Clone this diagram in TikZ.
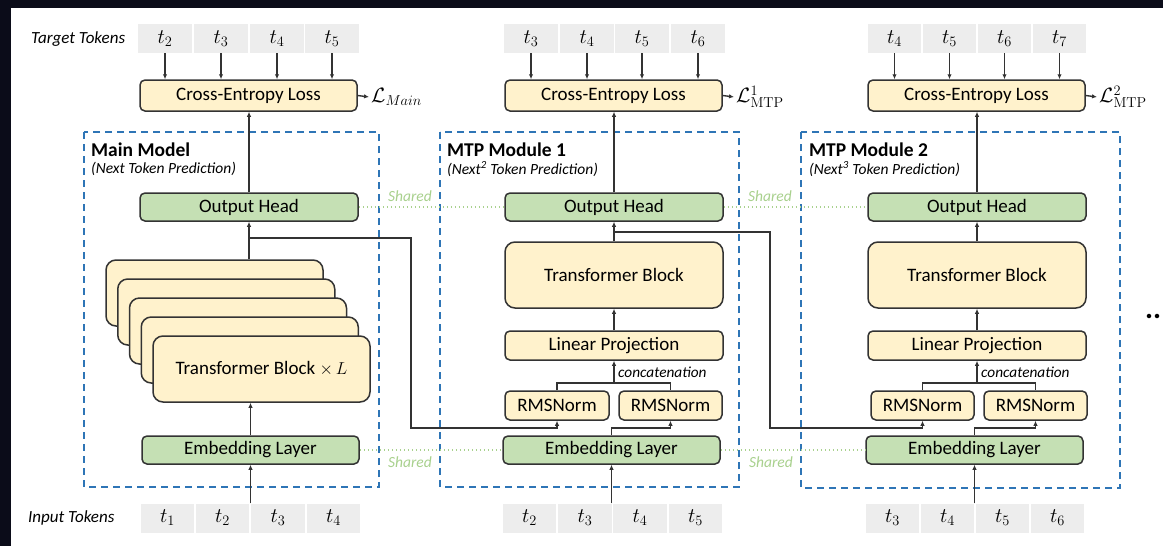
\documentclass[tikz,border=0pt]{standalone}
\usepackage[no-math]{fontspec}
\setmainfont{Carlito}
\usetikzlibrary{arrows.meta}
\definecolor{yel}{HTML}{FFF2CC}
\definecolor{grn}{HTML}{C5E0B4}
\definecolor{bord}{HTML}{333333}
\definecolor{dblue}{HTML}{2E75B6}
\definecolor{tokgray}{HTML}{EDEDED}
\definecolor{shgreen}{HTML}{A9D18E}
\definecolor{bgdark}{HTML}{0B0C19}
\tikzset{
  box/.style={draw=bord, line width=1.5pt, rounded corners=5pt, inner sep=0pt,
    font=\fontsize{19}{22}\selectfont},
  ybox/.style={box, fill=yel},
  gbox/.style={box, fill=grn},
  bigbox/.style={ybox, rounded corners=10pt, minimum width=217pt, minimum height=66pt},
  tok/.style={fill=tokgray, minimum width=53.5pt, minimum height=29pt, inner sep=0pt,
    font=\fontsize{20}{22}\selectfont},
  arr/.style={draw=bord, line width=1.4pt, -{Latex[length=5pt,width=4.5pt]}},
  wire/.style={draw=bord, line width=1.4pt},
  frame/.style={draw=dblue, line width=2.3pt, dash pattern=on 7pt off 5pt},
  shared/.style={draw=shgreen, line width=1.7pt, dash pattern=on 1.5pt off 2.5pt},
  sharedtxt/.style={text=shgreen, font=\fontsize{15.5}{18}\selectfont\itshape, inner sep=0pt},
  ttl/.style={anchor=west, inner sep=0pt, font=\fontsize{19.5}{22}\selectfont\bfseries},
  subttl/.style={anchor=west, inner sep=0pt, font=\fontsize{15.5}{18}\selectfont\itshape},
  rowlab/.style={anchor=west, inner sep=0pt, font=\fontsize{17}{20}\selectfont\itshape},
  note/.style={anchor=west, inner sep=0pt, font=\fontsize{15.3}{18}\selectfont\itshape},
  losslab/.style={anchor=west, inner sep=2pt, font=\fontsize{20}{22}\selectfont},
}
\begin{document}
\begin{tikzpicture}[x=1pt,y=-1pt]
\useasboundingbox (0,0) rectangle (1163,546);
\fill[bgdark] (0,0) rectangle (1163,546);
\fill[white] (11,8) rectangle (1163,546);

% group frames
\draw[frame] (84,132) rectangle (379,487);
\draw[frame] (440,132) rectangle (739,487);
\draw[frame] (801,132) rectangle (1120,488);

% row labels
\node[rowlab] (tgtlab) at (31,39) {Target Tokens};
\node[rowlab] (inlab) at (28,518) {Input Tokens};

% ---------------- main model ----------------
\foreach \i/\x/\t in {1/165/2,2/221/3,3/277/4,4/332/5}
  \node[tok] (tg0-\i) at (\x,38.5) {$t_{\t}$};
\foreach \i/\x/\t in {1/167.5/1,2/222.5/2,3/278/3,4/333.5/4}
  \node[tok] (in0-\i) at (\x,518) {$t_{\t}$};
\node[ybox, minimum width=217pt, minimum height=31pt] (ce0) at (248.5,95.5) {Cross-Entropy Loss};
\node[losslab] (loss0) at (369,97) {$\mathcal{L}_{Main}$};
\node[ttl] (ttl0) at (91,150) {Main Model};
\node[subttl] (sub0) at (91,169) {(Next Token Prediction)};
\node[gbox, minimum width=218pt, minimum height=28pt] (oh0) at (249,207) {Output Head};
\foreach \k in {0,...,3}
  \node[bigbox] (st0-\k) at ({261.5-(4-\k)*11.75},{369-(4-\k)*19}) {};
\node[bigbox] (tb0) at (261.5,369) {Transformer Block $\times\,L$};
\node[gbox, minimum width=217pt, minimum height=28pt] (emb0) at (250.5,450) {Embedding Layer};

% ---------------- MTP module 1 ----------------
\foreach \i/\x/\t in {1/531/3,2/587/4,3/642/5,4/698/6}
  \node[tok] (tg1-\i) at (\x,38.5) {$t_{\t}$};
\foreach \i/\x/\t in {1/529.5/2,2/585/3,3/640/4,4/695.5/5}
  \node[tok] (in1-\i) at (\x,518) {$t_{\t}$};
\node[ybox, minimum width=217pt, minimum height=31pt] (ce1) at (613.5,95.5) {Cross-Entropy Loss};
\node[losslab] (loss1) at (734,97) {$\mathcal{L}^{1}_{\mathrm{MTP}}$};
\node[ttl] (ttl1) at (447,150) {MTP Module 1};
\node[subttl] (sub1) at (447,169) {(Next\textsuperscript{2} Token Prediction)};
\node[gbox, minimum width=218pt, minimum height=28pt] (oh1) at (614,207) {Output Head};
\node[bigbox, minimum width=218pt] (tb1) at (614,275) {Transformer Block};
\node[ybox, minimum width=218pt, minimum height=29pt] (lp1) at (614,345.5) {Linear Projection};
\node[ybox, minimum width=104pt, minimum height=29pt] (rmsL1) at (557,405.5) {RMSNorm};
\node[ybox, minimum width=103pt, minimum height=29pt] (rmsR1) at (670.5,405.5) {RMSNorm};
\node[gbox, minimum width=217pt, minimum height=28pt] (emb1) at (611.5,450) {Embedding Layer};
\node[note] (cat1) at (618,372) {concatenation};

% ---------------- MTP module 2 ----------------
\foreach \i/\x/\t in {1/894.5/4,2/949.5/5,3/1004.5/6,4/1059.5/7}
  \node[tok] (tg2-\i) at (\x,38.5) {$t_{\t}$};
\foreach \i/\x/\t in {1/892.5/3,2/947.5/4,3/1002.5/5,4/1057.5/6}
  \node[tok] (in2-\i) at (\x,518) {$t_{\t}$};
\node[ybox, minimum width=217pt, minimum height=31pt] (ce2) at (976.5,95.5) {Cross-Entropy Loss};
\node[losslab] (loss2) at (1097,97) {$\mathcal{L}^{2}_{\mathrm{MTP}}$};
\node[ttl] (ttl2) at (809,150) {MTP Module 2};
\node[subttl] (sub2) at (809,169) {(Next\textsuperscript{3} Token Prediction)};
\node[gbox, minimum width=218pt, minimum height=28pt] (oh2) at (977,207) {Output Head};
\node[bigbox, minimum width=218pt] (tb2) at (977,275) {Transformer Block};
\node[ybox, minimum width=218pt, minimum height=29pt] (lp2) at (977,345.5) {Linear Projection};
\node[ybox, minimum width=103pt, minimum height=29pt] (rmsL2) at (922.5,405.5) {RMSNorm};
\node[ybox, minimum width=103pt, minimum height=29pt] (rmsR2) at (1035.5,405.5) {RMSNorm};
\node[gbox, minimum width=217pt, minimum height=28pt] (emb2) at (974.5,450) {Embedding Layer};
\node[note] (cat2) at (981,372) {concatenation};

\node[anchor=base west, inner sep=0pt, font=\fontsize{30}{32}\selectfont\bfseries] (more) at (1145,318) {..};

% ---------------- connectors ----------------
\foreach \c in {0,1,2}
  \foreach \i in {1,...,4}
    \draw[arr] (tg\c-\i.south) -- (tg\c-\i.south |- ce\c.north);
\foreach \c in {0,1,2} {
  \draw[arr] (ce\c.east) -- (loss\c.west);
  \draw[arr] (oh\c.north) -- (oh\c.north |- ce\c.south);
  \draw[arr] (emb\c.south |- in\c-2.north) -- (emb\c.south);
}
% main model trunk
\draw[arr] (oh0.south |- st0-0.north) -- (oh0.south);
\draw[arr] (emb0.north) -- (emb0.north |- tb0.south);
% module trunks
\foreach \c/\cx in {1/614,2/977} {
  \draw[arr] (tb\c.north) -- (oh\c.south);
  \draw[arr] (lp\c.north) -- (tb\c.south);
  \coordinate (cc\c) at (\cx,383);
  \draw[arr] (cc\c) -- (lp\c.south);
  \draw[wire] (rmsL\c.north) |- (cc\c) -| (rmsR\c.north);
}
\coordinate (j1) at (670.5,428);
\coordinate (j2) at (1035.5,428);
\draw[arr] (emb1.north) |- (j1) -- (rmsR1.south);
\draw[arr] (emb2.north) |- (j2) -- (rmsR2.south);
% hidden states passed to the next module
\coordinate (br0) at (249,238);
\coordinate (k0) at (411,428);
\draw[arr] (br0) -| (k0) -| (rmsL1.south);
\coordinate (br1) at (614,232);
\coordinate (k1) at (770,428);
\draw[arr] (br1) -| (k1) -| (rmsL2.south);

% shared parameters
\draw[shared] (oh0.east) -- (oh1.west);
\draw[shared] (emb0.east) -- (emb1.west);
\draw[shared] (oh1.east) -- (oh2.west);
\draw[shared] (emb1.east) -- (emb2.west);
\node[sharedtxt] (sh0t) at (410,196) {Shared};
\node[sharedtxt] (sh0b) at (410,462) {Shared};
\node[sharedtxt] (sh1t) at (770,196) {Shared};
\node[sharedtxt] (sh1b) at (771,462) {Shared};
\end{tikzpicture}
\end{document}
